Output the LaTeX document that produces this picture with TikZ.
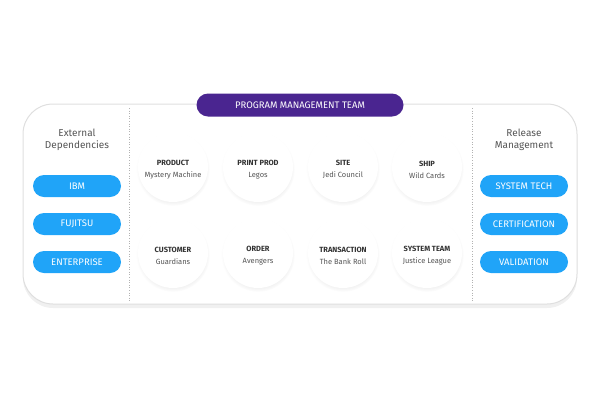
\documentclass[tikz,border=0pt]{standalone}
\usepackage{fontspec}
\setmainfont{Fira Sans}
\usepackage{xcolor}
\usetikzlibrary{shadows}

\definecolor{pmpurple}{HTML}{4A2590}
\definecolor{depblue}{HTML}{20A4F8}
\definecolor{textdark}{HTML}{333333}
\definecolor{textgray}{HTML}{555555}

\newcommand{\teamlabel}[2]{\rule{0pt}{11pt}\textcolor{textdark}{\textbf{#1}}\\#2}

\begin{document}
\begin{tikzpicture}[x=1pt,y=-1pt,
    pill/.style={fill=depblue, text=white, rounded corners=11pt,
        minimum width=88pt, minimum height=22pt, inner sep=0pt,
        font=\fontsize{9.5}{11}\selectfont},
    team/.style={circle, fill=white, minimum size=70pt, inner sep=0pt,
        align=center, text=textgray, font=\fontsize{7.5}{12}\selectfont,
        circular drop shadow={opacity=0.13, shadow xshift=0pt, shadow yshift=-2pt, shadow scale=1.05}},
    side/.style={align=center, text=textgray, font=\fontsize{10}{12.5}\selectfont},
    divider/.style={gray!60, dotted, line width=0.6pt}]
    \useasboundingbox (0,0) rectangle (600,400);

    % frame
    \node[draw=gray!25, line width=1pt, fill=white, rounded corners=30pt,
        minimum width=554pt, minimum height=200pt,
        drop shadow={opacity=0.12, shadow xshift=0pt, shadow yshift=-4pt}] (frame) at (300,204) {};
    \coordinate (ltop) at (129,108);
    \coordinate (lbot) at (129,302);
    \coordinate (rtop) at (472,108);
    \coordinate (rbot) at (472,302);
    \draw[divider] (ltop) -- (lbot);
    \draw[divider] (rtop) -- (rbot);

    % program management team
    \node[fill=pmpurple, text=white, rounded corners=11.5pt, minimum width=207pt,
        minimum height=23pt, inner sep=0pt, font=\fontsize{9.5}{11}\selectfont] (pmt) at (300,105) {PROGRAM MANAGEMENT TEAM};

    % external dependencies
    \node[side] (extdep) at (77,140) {External\\Dependencies};
    \node[pill] (ibm) at (77,186) {IBM};
    \node[pill] (fujitsu) at (77,224) {FUJITSU};
    \node[pill] (enterprise) at (77,262) {ENTERPRISE};

    % release management
    \node[side] (relmgmt) at (524,140) {Release\\Management};
    \node[pill] (systech) at (524,186) {SYSTEM TECH};
    \node[pill] (cert) at (524,224) {CERTIFICATION};
    \node[pill] (valid) at (524,262) {VALIDATION};

    % teams, top row
    \node[team] (product) at (173,167) {\teamlabel{PRODUCT}{Mystery Machine}};
    \node[team] (printprod) at (258,167) {\teamlabel{PRINT PROD}{Legos}};
    \node[team] (site) at (343,167) {\teamlabel{SITE}{Jedi Council}};
    \node[team] (ship) at (427,167) {\teamlabel{SHIP}{Wild Cards}};

    % teams, bottom row
    \node[team] (customer) at (173,253) {\teamlabel{CUSTOMER}{Guardians}};
    \node[team] (order) at (258,253) {\teamlabel{ORDER}{Avengers}};
    \node[team] (transaction) at (343,253) {\teamlabel{TRANSACTION}{The Bank Roll}};
    \node[team] (systeam) at (427,253) {\teamlabel{SYSTEM TEAM}{Justice League}};
\end{tikzpicture}
\end{document}
